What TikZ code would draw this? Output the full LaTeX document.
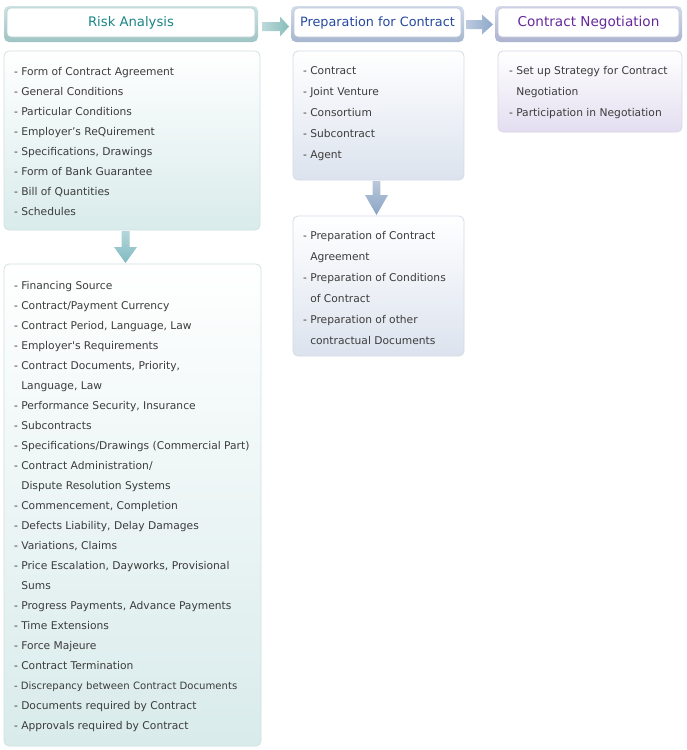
\documentclass[tikz,border=0pt]{standalone}
\usepackage{fontspec}
\setmainfont{DejaVu Sans}
\newcommand\myBody{\fontsize{10.7}{13}\selectfont}
\newcommand\myTitle{\fontsize{13.2}{15}\selectfont}
\newcommand\contind{\phantom{- }}
\definecolor{txtc}{HTML}{3C3C3C}
\definecolor{raT}{HTML}{1B8585}
\definecolor{prT}{HTML}{264AA0}
\definecolor{ngT}{HTML}{66299C}
\definecolor{raO1}{HTML}{CFE3E3}\definecolor{raO2}{HTML}{9FC3C3}
\definecolor{raIB}{HTML}{B5D0D0}\definecolor{raCB}{HTML}{CFE2E2}\definecolor{raCF}{HTML}{D9EBEB}
\definecolor{prO1}{HTML}{D3DCEA}\definecolor{prO2}{HTML}{A6B6CF}
\definecolor{prIB}{HTML}{BAC6DA}\definecolor{prCB}{HTML}{D3DBE6}\definecolor{prCF}{HTML}{DCE3EE}
\definecolor{ngO1}{HTML}{D6D9EA}\definecolor{ngO2}{HTML}{ACB3CF}
\definecolor{ngIB}{HTML}{C0C4DC}\definecolor{ngCB}{HTML}{DAD7E6}\definecolor{ngCF}{HTML}{E3DEF0}
\definecolor{raA1}{HTML}{BDD9D9}\definecolor{raA2}{HTML}{88BCBC}
\definecolor{raD1}{HTML}{B4D6DA}\definecolor{raD2}{HTML}{80BAC2}
\definecolor{prA1}{HTML}{BCCADE}\definecolor{prA2}{HTML}{8CA8CA}
\definecolor{prD1}{HTML}{BAC8DA}\definecolor{prD2}{HTML}{8AA4C6}
\begin{document}
\begin{tikzpicture}[x=1pt,y=-1pt,
  every node/.style={inner sep=0pt, outer sep=0pt},
  hdout/.style={rounded corners=5pt, anchor=north west},
  hdin/.style={rounded corners=4pt, fill=white, line width=0.6pt, anchor=north west},
  cbox/.style={rounded corners=5pt, line width=0.8pt, anchor=north west, top color=white},
  itemline/.style={anchor=base west, text=txtc, font=\myBody},
  titletext/.style={font=\myTitle}]
\useasboundingbox (0,0) rectangle (687,750);
\fill[white] (0,0) rectangle (687,750);

% ---------- headers ----------
\node[hdout, top color=raO1, bottom color=raO2, minimum width=254, minimum height=36] (rahdo) at (4,6) {};
\node[hdin, draw=raIB, minimum width=248, minimum height=29] (rahd) at (7,8) {};
\node[titletext, text=raT] (rat) at (rahd.center) {Risk Analysis};

\node[hdout, top color=prO1, bottom color=prO2, minimum width=173, minimum height=36] (prhdo) at (291,6) {};
\node[hdin, draw=prIB, minimum width=167, minimum height=29] (prhd) at (294,8) {};
\node[titletext, text=prT, font=\fontsize{12.8}{15}\selectfont] (prt) at (prhd.center) {Preparation for Contract};

\node[hdout, top color=ngO1, bottom color=ngO2, minimum width=187, minimum height=36] (nghdo) at (495,6) {};
\node[hdin, draw=ngIB, minimum width=181, minimum height=29] (nghd) at (498,8) {};
\node[titletext, text=ngT, font=\fontsize{13.6}{15}\selectfont] (ngt) at (nghd.center) {Contract Negotiation};

% ---------- content boxes ----------
\node[cbox, draw=raCB, bottom color=raCF, minimum width=256, minimum height=179] (ra1) at (4,51) {};
\node[cbox, draw=raCB, bottom color=raCF, minimum width=257, minimum height=482] (ra2) at (4,264) {};
\node[cbox, draw=prCB, bottom color=prCF, minimum width=171, minimum height=129] (pr1) at (293,51) {};
\node[cbox, draw=prCB, bottom color=prCF, minimum width=171, minimum height=140] (pr2) at (293,216) {};
\node[cbox, draw=ngCB, bottom color=ngCF, minimum width=184, minimum height=81] (ng1) at (498,51) {};

% ---------- block arrows ----------
\coordinate (a1) at (262,26.5);
\shade[left color=raA1, right color=raA2]
  (a1) ++(0,-4.5) -- ++(18,0) -- ++(0,-5.5) -- ++(9,10) -- ++(-9,10) -- ++(0,-5.5) -- ++(-18,0) -- cycle;
\coordinate (a2) at (466,24.5);
\shade[left color=prA1, right color=prA2]
  (a2) ++(0,-4.5) -- ++(16,0) -- ++(0,-5.5) -- ++(11,10) -- ++(-11,10) -- ++(0,-5.5) -- ++(-16,0) -- cycle;
\coordinate (d1) at (126,231);
\shade[top color=raD1, bottom color=raD2]
  (d1) ++(-4.5,0) -- ++(0,16) -- ++(-7.5,0) -- ++(11.5,16) -- ++(11.5,-16) -- ++(-7.5,0) -- ++(0,-16) -- cycle;
\coordinate (d2) at (376.5,181);
\shade[top color=prD1, bottom color=prD2]
  (d2) ++(-3.8,0) -- ++(0,14) -- ++(-7.7,0) -- ++(11.5,20) -- ++(11.5,-20) -- ++(-7.7,0) -- ++(0,-14) -- cycle;

% ---------- texts ----------
\foreach \itm [count=\i from 0] in {
  - Form of Contract Agreement,
  - General Conditions,
  - Particular Conditions,
  - Employer’s ReQuirement,
  {- Specifications, Drawings},
  - Form of Bank Guarantee,
  - Bill of Quantities,
  - Schedules}
  \node[itemline] (ra1l\i) at (14,75+20*\i) {\itm};

\foreach \itm [count=\i from 0] in {
  - Financing Source,
  - Contract/Payment Currency,
  {- Contract Period, Language, Law},
  - Employer\textquotesingle s Requirements,
  {- Contract Documents, Priority,},
  {\contind Language, Law},
  {- Performance Security, Insurance},
  - Subcontracts,
  - Specifications/Drawings (Commercial Part),
  - Contract Administration/,
  \contind Dispute Resolution Systems,
  {- Commencement, Completion},
  {- Defects Liability, Delay Damages},
  {- Variations, Claims},
  {- Price Escalation, Dayworks, Provisional},
  \contind Sums,
  {- Progress Payments, Advance Payments},
  - Time Extensions,
  - Force Majeure,
  - Contract Termination,
  {\fontsize{10.1}{13}\selectfont - Discrepancy between Contract Documents},
  - Documents required by Contract,
  - Approvals required by Contract}
  \node[itemline] (ra2l\i) at (14,289+20*\i) {\itm};

\foreach \itm [count=\i from 0] in {
  - Contract, - Joint Venture, - Consortium, - Subcontract, - Agent}
  \node[itemline] (pr1l\i) at (303,74+21*\i) {\itm};

\foreach \itm [count=\i from 0] in {
  - Preparation of Contract,
  \contind Agreement,
  - Preparation of Conditions,
  \contind of Contract,
  - Preparation of other,
  \contind contractual Documents}
  \node[itemline] (pr2l\i) at (303,239+21*\i) {\itm};

\foreach \itm [count=\i from 0] in {
  - Set up Strategy for Contract,
  \contind Negotiation,
  - Participation in Negotiation}
  \node[itemline] (ng1l\i) at (509,74+21*\i) {\itm};
\end{tikzpicture}
\end{document}
